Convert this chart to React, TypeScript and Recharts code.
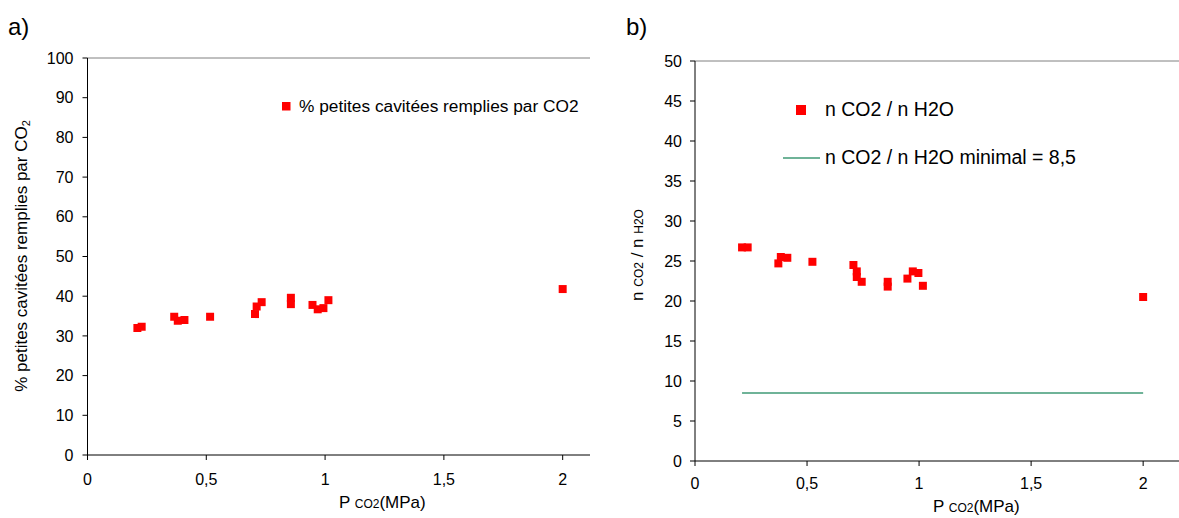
import React from 'react';
import { ScatterChart, Scatter, XAxis, YAxis, ZAxis, ReferenceLine } from 'recharts';

// a) % small cavities filled by CO2 vs P CO2 (MPa)
const pressureA = [0.21, 0.228, 0.365, 0.38, 0.408, 0.516, 0.705, 0.712, 0.733, 0.856, 0.856, 0.947, 0.969, 0.993, 1.014, 2.0];
const fillPctA = [32.0, 32.3, 34.8, 33.8, 34.0, 34.8, 35.5, 37.4, 38.5, 39.6, 38.0, 37.8, 36.7, 37.0, 39.0, 41.8];

// b) n CO2 / n H2O vs P CO2 (MPa)
const pressureB = [0.21, 0.235, 0.372, 0.383, 0.412, 0.524, 0.707, 0.722, 0.722, 0.744, 0.86, 0.86, 0.948, 0.972, 0.997, 1.017, 2.0];
const ratioB = [26.7, 26.7, 24.7, 25.5, 25.4, 24.9, 24.5, 23.7, 23.0, 22.4, 22.4, 21.8, 22.8, 23.7, 23.5, 21.9, 20.5];
const minimalRatio = 8.5;

const xTicks = [0, 0.5, 1, 1.5, 2];
const yTicksA = [0, 10, 20, 30, 40, 50, 60, 70, 80, 90, 100];
const yTicksB = [0, 5, 10, 15, 20, 25, 30, 35, 40, 45, 50];

const FONT = '"Liberation Sans", Arial, sans-serif';
const RED = '#ff0000';
const GREEN = '#3f9a76';

const fmt = (v: number) => String(v).replace('.', ',');
const noDot = () => <g />;

export default function App() {
  const dataA = pressureA.map((p, i) => ({ p, v: fillPctA[i] }));
  const dataB = pressureB.map((p, i) => ({ p, v: ratioB[i] }));
  const minLine = [
    { p: Math.min(...pressureB), v: minimalRatio },
    { p: Math.max(...pressureB), v: minimalRatio },
  ];
  const tick = { fill: '#000', fontSize: 16, fontFamily: FONT };
  const axisLine = { stroke: '#000' };

  return (
    <div style={{ position: 'absolute', left: 0, top: 0, width: 1179, height: 518, background: '#fff', fontFamily: FONT }}>
      <div style={{ position: 'absolute', left: 0, top: 0 }}>
        <ScatterChart width={600} height={518} margin={{ top: 58, right: 10, bottom: 33, left: 0 }}>
          <XAxis type="number" dataKey="p" domain={[0, 2.115]} ticks={xTicks} tickFormatter={fmt}
            axisLine={axisLine} tickLine={axisLine} tick={tick} tickSize={5} tickMargin={14} height={30} allowDataOverflow />
          <YAxis type="number" dataKey="v" domain={[0, 100]} ticks={yTicksA}
            axisLine={axisLine} tickLine={axisLine} tick={tick} tickSize={5} tickMargin={9} width={87.5} />
          <ZAxis range={[80, 80]} />
          <ReferenceLine y={100} stroke="#808080" />
          <Scatter data={dataA} fill={RED} shape="square" isAnimationActive={false} />
        </ScatterChart>
      </div>
      <div style={{ position: 'absolute', left: 600, top: 0 }}>
        <ScatterChart width={579} height={518} margin={{ top: 61, right: 0, bottom: 27, left: 0 }}>
          <XAxis type="number" dataKey="p" domain={[0, 2.16]} ticks={xTicks} tickFormatter={fmt}
            axisLine={axisLine} tickLine={axisLine} tick={tick} tickSize={5} tickMargin={12} height={30} allowDataOverflow />
          <YAxis type="number" dataKey="v" domain={[0, 50]} ticks={yTicksB}
            axisLine={axisLine} tickLine={axisLine} tick={tick} tickSize={5} tickMargin={8} width={95} />
          <ZAxis range={[85, 85]} />
          <ReferenceLine y={50} stroke="#808080" />
          <Scatter data={minLine} line={{ stroke: GREEN, strokeWidth: 1.5 }} shape={noDot} isAnimationActive={false} />
          <Scatter data={dataB} fill={RED} shape="square" isAnimationActive={false} />
        </ScatterChart>
      </div>
      <svg width={1179} height={518} style={{ position: 'absolute', left: 0, top: 0, pointerEvents: 'none' }} fontFamily={FONT}>
        <text x={8} y={35} fontSize={24}>a)</text>
        <text x={626} y={35} fontSize={24}>b)</text>

        <text x={27} y={256} fontSize={17} textAnchor="middle" transform="rotate(-90 27 256)">
          % petites cavitées remplies par CO<tspan fontSize={11} dy={3}>2</tspan>
        </text>
        <text x={643} y={255} fontSize={17} textAnchor="middle" transform="rotate(-90 643 255)">
          n <tspan fontSize={12}>CO2</tspan> / n <tspan fontSize={12}>H2O</tspan>
        </text>

        <text x={339} y={508} fontSize={17}>P <tspan fontSize={12}>CO2</tspan>(MPa)</text>
        <text x={933} y={512} fontSize={17}>P <tspan fontSize={12}>CO2</tspan>(MPa)</text>

        <rect x={282} y={102} width={8.5} height={8.5} fill={RED} />
        <text x={299} y={112} fontSize={17.3}>% petites cavitées remplies par CO2</text>

        <rect x={796} y={105} width={10} height={10} fill={RED} />
        <text x={825} y={116} fontSize={19.5}>n CO2 / n H2O</text>
        <line x1={783} x2={820} y1={158} y2={158} stroke={GREEN} strokeWidth={1.5} />
        <text x={825} y={164} fontSize={19.5}>n CO2 / n H2O minimal = 8,5</text>
      </svg>
    </div>
  );
}
